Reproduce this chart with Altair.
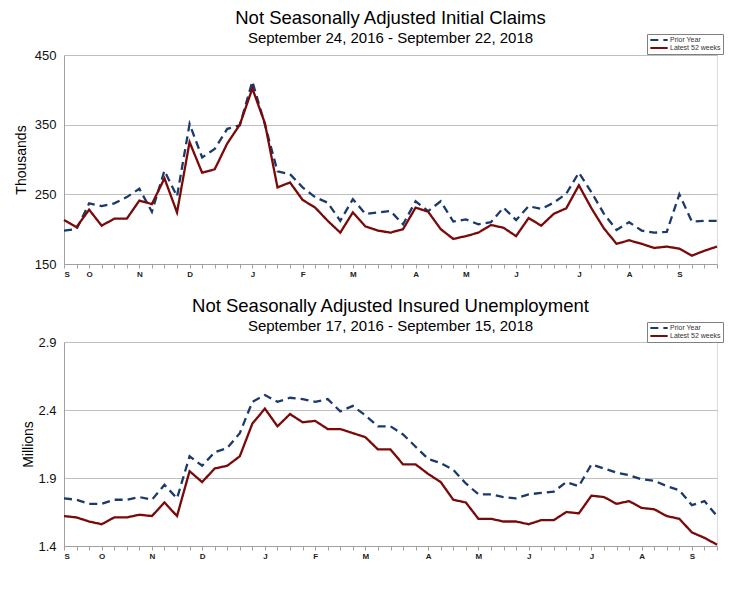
import altair as alt
import pandas as pd

# ---------------- data ----------------
series_names = ["Prior Year", "Latest 52 weeks"]
weeks = list(range(53))

claims_latest = [213, 203, 228, 205, 215, 215, 241, 236, 273, 224, 325, 281, 286, 323, 350, 402,
                 352, 260, 267, 242, 231, 212, 195, 224, 204, 198, 195, 200, 231, 225, 200, 186,
                 190, 195, 206, 202, 190, 216, 205, 222, 230, 263, 230, 201, 179, 184, 179, 173,
                 175, 172, 162, 169, 175]
claims_prior = [198, 200, 237, 233, 237, 246, 258, 225, 284, 247, 351, 303, 315, 344, 349, 412,
                350, 283, 279, 260, 246, 238, 212, 243, 222, 224, 226, 207, 240, 226, 240, 211,
                214, 207, 210, 231, 213, 233, 229, 238, 251, 281, 253, 222, 199, 210, 198, 195,
                196, 250, 211, 212, 212]

ins_latest = [1.62, 1.61, 1.58, 1.56, 1.61, 1.61, 1.63, 1.62, 1.72, 1.62, 1.95, 1.87, 1.97, 1.99,
              2.06, 2.30, 2.41, 2.28, 2.37, 2.31, 2.32, 2.26, 2.26, 2.23, 2.20, 2.11, 2.11, 2.00,
              2.00, 1.93, 1.87, 1.74, 1.72, 1.60, 1.60, 1.58, 1.58, 1.56, 1.59, 1.59, 1.65, 1.64,
              1.77, 1.76, 1.71, 1.73, 1.68, 1.67, 1.62, 1.60, 1.50, 1.46, 1.41]
ins_prior = [1.75, 1.74, 1.71, 1.71, 1.74, 1.74, 1.76, 1.74, 1.85, 1.75, 2.06, 1.99, 2.09, 2.12,
             2.23, 2.46, 2.51, 2.46, 2.49, 2.48, 2.46, 2.48, 2.39, 2.43, 2.36, 2.28, 2.28, 2.22,
             2.13, 2.04, 2.01, 1.96, 1.86, 1.78, 1.78, 1.76, 1.75, 1.78, 1.79, 1.80, 1.87, 1.84,
             2.00, 1.97, 1.94, 1.92, 1.89, 1.88, 1.84, 1.81, 1.70, 1.73, 1.62]

claims_tick_idx = [0, 2, 6, 10, 15, 19, 23, 28, 32, 36, 41, 45, 49]
claims_tick_lab = ["S", "O", "N", "D", "J", "F", "M", "A", "M", "J", "J", "A", "S"]
ins_tick_idx = [0, 3, 7, 11, 16, 20, 24, 29, 33, 37, 42, 46, 50]
ins_tick_lab = ["S", "O", "N", "D", "J", "F", "M", "A", "M", "J", "J", "A", "S"]

claims_yticks = [150, 250, 350, 450]
ins_yticks = [1.4, 1.9, 2.4, 2.9]

FONT = "Liberation Sans"
COLORS = ["#1B3A6B", "#7A0A0A"]
DASHES = [[8, 5], [1, 0]]


def label_expr(idx, lab):
    expr = "''"
    for i, l in reversed(list(zip(idx, lab))):
        expr = f"datum.value == {i} ? '{l}' : ({expr})"
    return expr


def panel(latest, prior, tidx, tlab, yticks, yfmt, ytitle, title, subtitle,
          height, legend_y, title_pad, title_off):
    df = pd.DataFrame({
        "week": weeks + weeks,
        "value": prior + latest,
        "series": [series_names[0]] * len(weeks) + [series_names[1]] * len(weeks),
    })
    leg = alt.Legend(title=None, orient="none", legendX=583, legendY=legend_y,
                     direction="vertical", labelFontSize=7, labelFont=FONT,
                     labelColor="#333333", symbolType="stroke", symbolSize=300,
                     symbolStrokeWidth=2, strokeColor="#808080", fillColor="white",
                     padding=2, rowPadding=0, labelOffset=1, cornerRadius=0,
                     clipHeight=8)
    return alt.Chart(df).mark_line(strokeWidth=2.3).encode(
        x=alt.X("week:Q", scale=alt.Scale(domain=[0, 52], nice=False, zero=False),
                axis=alt.Axis(values=weeks, labelExpr=label_expr(tidx, tlab), title=None,
                              grid=False, tickSize=4, tickColor="#A0A0A0",
                              domainColor="#A0A0A0", labelFontSize=8, labelFontWeight="bold",
                              labelColor="#222222", labelPadding=2, labelFont=FONT)),
        y=alt.Y("value:Q", scale=alt.Scale(domain=[yticks[0], yticks[-1]], nice=False, zero=False),
                axis=alt.Axis(values=yticks, format=yfmt, title=ytitle, grid=True,
                              gridColor="#BFBFBF", ticks=False, domainColor="#A0A0A0",
                              labelFontSize=13, labelFont=FONT, labelColor="#111111",
                              labelPadding=8, titleFontSize=14, titleFont=FONT,
                              titleFontWeight="normal", titleColor="#000000",
                              titlePadding=title_pad)),
        color=alt.Color("series:N", scale=alt.Scale(domain=series_names, range=COLORS), legend=leg),
        strokeDash=alt.StrokeDash("series:N", scale=alt.Scale(domain=series_names, range=DASHES),
                                  legend=leg),
    ).properties(
        width=653, height=height,
        title=alt.TitleParams(text=title, subtitle=subtitle, fontSize=18.5, subtitleFontSize=15,
                              font=FONT, subtitleFont=FONT, fontWeight="normal",
                              color="#000000", subtitleColor="#000000", anchor="middle",
                              frame="group", offset=title_off, subtitlePadding=3),
    )


top = panel(claims_latest, claims_prior, claims_tick_idx, claims_tick_lab, claims_yticks, "d",
            "Thousands", "Not Seasonally Adjusted Initial Claims",
            "September 24, 2016 - September 22, 2018", 209, -21, 6, -12)
bottom = panel(ins_latest, ins_prior, ins_tick_idx, ins_tick_lab, ins_yticks, ".1f",
               "Millions", "Not Seasonally Adjusted Insured Unemployment",
               "September 17, 2016 -  September 15, 2018", 204, -20, 2, -12)

chart = alt.vconcat(top, bottom, spacing=17).resolve_scale(
    color="independent", strokeDash="independent"
).resolve_legend(
    color="independent", strokeDash="independent"
).configure_view(
    stroke="#A0A0A0"
).configure(padding={"left": 5, "top": 0, "right": 5, "bottom": 5})

chart.save("out.html", embed_options={"renderer": "svg", "actions": False})
